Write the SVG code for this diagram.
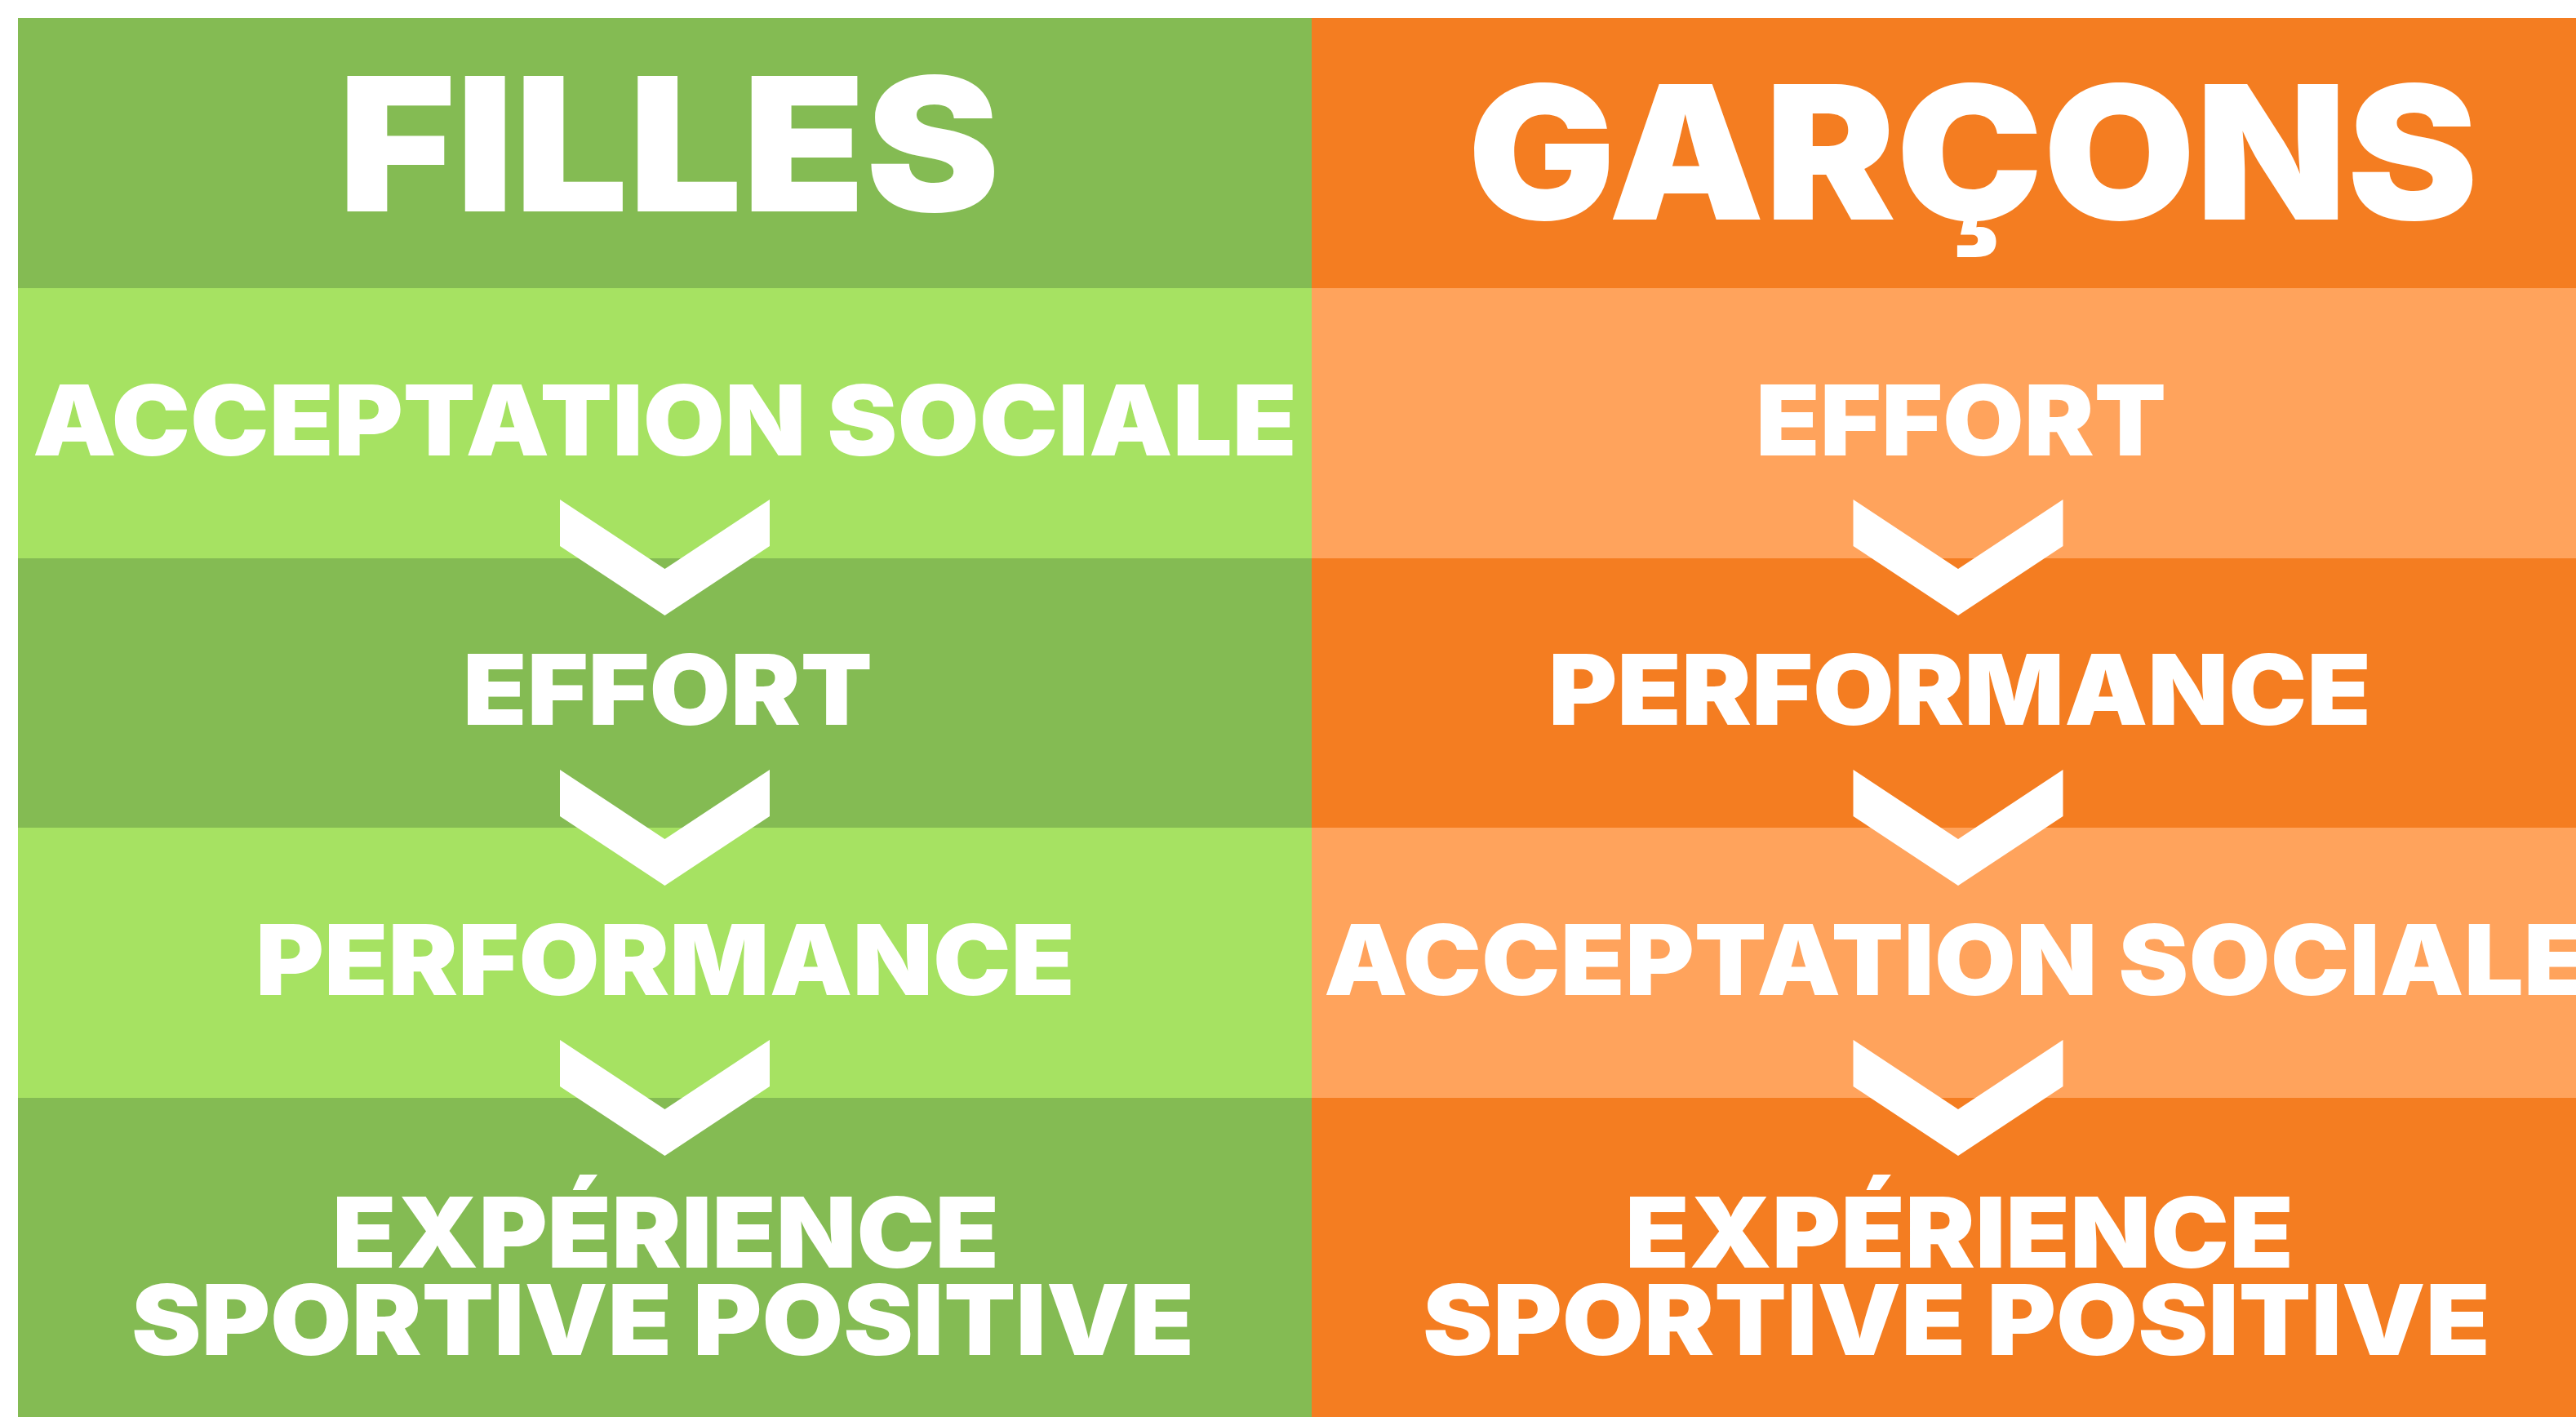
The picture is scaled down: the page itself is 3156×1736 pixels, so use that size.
<svg xmlns="http://www.w3.org/2000/svg" width="3156" height="1736" viewBox="0 0 3156 1736">
<style>
.t{font-family:Inter,"Liberation Sans","DejaVu Sans",sans-serif;font-weight:900;fill:#FFFFFF}
.h{font-size:228px}
.r{font-size:119px}
.dg{fill:#84BB53}.lg{fill:#A6E262}.or{fill:#F47D21}.lo{fill:#FFA35C}
.chev{fill:#FFFFFF}
</style>
<defs>
<polygon id="chev" points="-128.5,0 0,85 128.5,0 128.5,57 0,142 -128.5,57"/>
</defs>
<rect width="3156" height="1736" fill="#FFFFFF"/>
<g id="filles-header"><rect class="dg" x="22" y="22" width="1585" height="331"/><text class="t h" x="414" y="259" textLength="811" lengthAdjust="spacingAndGlyphs">FILLES</text></g>
<g id="garcons-header"><rect class="or" x="1607" y="22" width="1549" height="331"/><text class="t h" x="1798" y="269" textLength="1238" lengthAdjust="spacingAndGlyphs">GARÇONS</text></g>
<g id="f-acceptation"><rect class="lg" x="22" y="353" width="1585" height="331"/><text class="t r" x="40" y="558" textLength="1549" lengthAdjust="spacingAndGlyphs">ACCEPTATION SOCIALE</text></g>
<g id="g-effort"><rect class="lo" x="1607" y="353" width="1549" height="331"/><text class="t r" x="2151" y="558" textLength="503" lengthAdjust="spacingAndGlyphs">EFFORT</text></g>
<g id="f-effort"><rect class="dg" x="22" y="684" width="1585" height="330"/><text class="t r" x="567" y="888" textLength="502" lengthAdjust="spacingAndGlyphs">EFFORT</text></g>
<g id="g-performance"><rect class="or" x="1607" y="684" width="1549" height="330"/><text class="t r" x="1897" y="888" textLength="1008" lengthAdjust="spacingAndGlyphs">PERFORMANCE</text></g>
<g id="f-performance"><rect class="lg" x="22" y="1014" width="1585" height="331"/><text class="t r" x="313" y="1219" textLength="1004" lengthAdjust="spacingAndGlyphs">PERFORMANCE</text></g>
<g id="g-acceptation"><rect class="lo" x="1607" y="1014" width="1549" height="331"/><text class="t r" x="1622" y="1219" textLength="1549" lengthAdjust="spacingAndGlyphs">ACCEPTATION SOCIALE</text></g>
<g id="f-experience"><rect class="dg" x="22" y="1345" width="1585" height="391"/><text class="t r" x="407" y="1553" textLength="817" lengthAdjust="spacingAndGlyphs">EXPÉRIENCE</text><text class="t r" x="161" y="1660" textLength="1302" lengthAdjust="spacingAndGlyphs">SPORTIVE POSITIVE</text></g>
<g id="g-experience"><rect class="or" x="1607" y="1345" width="1549" height="391"/><text class="t r" x="1991" y="1553" textLength="819" lengthAdjust="spacingAndGlyphs">EXPÉRIENCE</text><text class="t r" x="1743" y="1660" textLength="1308" lengthAdjust="spacingAndGlyphs">SPORTIVE POSITIVE</text></g>
<g id="connectors" class="chev">
<use href="#chev" x="814.5" y="612"/>
<use href="#chev" x="814.5" y="943"/>
<use href="#chev" x="814.5" y="1274"/>
<use href="#chev" x="2399" y="612"/>
<use href="#chev" x="2399" y="943"/>
<use href="#chev" x="2399" y="1274"/>
</g>
</svg>
